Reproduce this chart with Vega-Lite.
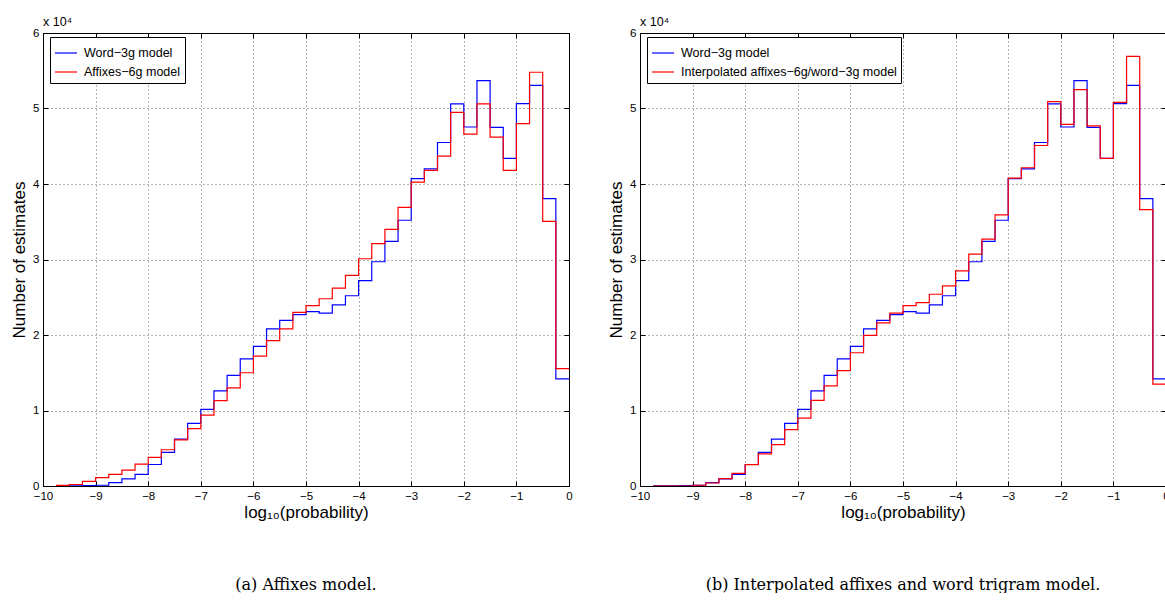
{
  "$schema": "https://vega.github.io/schema/vega-lite/v6.json",
  "background": "white",
  "padding": {"left": 10, "top": 15, "right": 0, "bottom": 0},
  "spacing": 71,
  "bounds": "flush",
  "config": {
    "font": "Liberation Sans",
    "view": {"stroke": "#000", "strokeWidth": 1},
    "axis": {
      "labelFontSize": 11.5, "labelColor": "#000", "labelFont": "Liberation Sans",
      "titleFont": "Liberation Sans", "titleFontSize": 17, "titleFontWeight": "normal", "titleColor": "#000",
      "tickSize": -5, "tickColor": "#000", "domainColor": "#000",
      "gridColor": "#000", "gridDash": [1, 3], "gridOpacity": 0.6, "gridWidth": 1,
      "labelFlush": false, "labelOverlap": false
    },
    "legend": {
      "orient": "none", "legendX": 7, "legendY": 4, "title": null,
      "symbolType": "stroke", "symbolSize": 484, "symbolStrokeWidth": 1.2,
      "labelFontSize": 12.5, "labelFont": "Liberation Sans", "labelColor": "#000", "labelLimit": 0,
      "fillColor": "white", "strokeColor": "#000", "padding": 4, "rowPadding": 0, "labelOffset": 6
    }
  },
  "hconcat": [
    {
      "width": 526, "height": 453,
      "title": {"text": "(a) Affixes model.", "orient": "bottom", "anchor": "middle", "frame": "group", "font": "DejaVu Serif", "fontSize": 16, "fontWeight": "normal", "color": "#000", "offset": 56},
      "data": {"values": [
        {"m": "Word−3g model", "a": -9.75, "b": -9.5, "n": 10},
        {"m": "Word−3g model", "a": -9.5, "b": -9.25, "n": 20},
        {"m": "Word−3g model", "a": -9.25, "b": -9, "n": 40},
        {"m": "Word−3g model", "a": -9, "b": -8.75, "n": 100},
        {"m": "Word−3g model", "a": -8.75, "b": -8.5, "n": 450},
        {"m": "Word−3g model", "a": -8.5, "b": -8.25, "n": 950},
        {"m": "Word−3g model", "a": -8.25, "b": -8, "n": 1550},
        {"m": "Word−3g model", "a": -8, "b": -7.75, "n": 2850},
        {"m": "Word−3g model", "a": -7.75, "b": -7.5, "n": 4450},
        {"m": "Word−3g model", "a": -7.5, "b": -7.25, "n": 6200},
        {"m": "Word−3g model", "a": -7.25, "b": -7, "n": 8300},
        {"m": "Word−3g model", "a": -7, "b": -6.75, "n": 10150},
        {"m": "Word−3g model", "a": -6.75, "b": -6.5, "n": 12600},
        {"m": "Word−3g model", "a": -6.5, "b": -6.25, "n": 14650},
        {"m": "Word−3g model", "a": -6.25, "b": -6, "n": 16850},
        {"m": "Word−3g model", "a": -6, "b": -5.75, "n": 18500},
        {"m": "Word−3g model", "a": -5.75, "b": -5.5, "n": 20800},
        {"m": "Word−3g model", "a": -5.5, "b": -5.25, "n": 21950},
        {"m": "Word−3g model", "a": -5.25, "b": -5, "n": 22700},
        {"m": "Word−3g model", "a": -5, "b": -4.75, "n": 23100},
        {"m": "Word−3g model", "a": -4.75, "b": -4.5, "n": 22900},
        {"m": "Word−3g model", "a": -4.5, "b": -4.25, "n": 24000},
        {"m": "Word−3g model", "a": -4.25, "b": -4, "n": 25200},
        {"m": "Word−3g model", "a": -4, "b": -3.75, "n": 27200},
        {"m": "Word−3g model", "a": -3.75, "b": -3.5, "n": 29700},
        {"m": "Word−3g model", "a": -3.5, "b": -3.25, "n": 32400},
        {"m": "Word−3g model", "a": -3.25, "b": -3, "n": 35200},
        {"m": "Word−3g model", "a": -3, "b": -2.75, "n": 40700},
        {"m": "Word−3g model", "a": -2.75, "b": -2.5, "n": 42000},
        {"m": "Word−3g model", "a": -2.5, "b": -2.25, "n": 45500},
        {"m": "Word−3g model", "a": -2.25, "b": -2, "n": 50600},
        {"m": "Word−3g model", "a": -2, "b": -1.75, "n": 47550},
        {"m": "Word−3g model", "a": -1.75, "b": -1.5, "n": 53700},
        {"m": "Word−3g model", "a": -1.5, "b": -1.25, "n": 47500},
        {"m": "Word−3g model", "a": -1.25, "b": -1, "n": 43400},
        {"m": "Word−3g model", "a": -1, "b": -0.75, "n": 50650},
        {"m": "Word−3g model", "a": -0.75, "b": -0.5, "n": 53050},
        {"m": "Word−3g model", "a": -0.5, "b": -0.25, "n": 38050},
        {"m": "Word−3g model", "a": -0.25, "b": 0, "n": 14200},
        {"m": "Affixes−6g model", "a": -9.75, "b": -9.5, "n": 80},
        {"m": "Affixes−6g model", "a": -9.5, "b": -9.25, "n": 200},
        {"m": "Affixes−6g model", "a": -9.25, "b": -9, "n": 600},
        {"m": "Affixes−6g model", "a": -9, "b": -8.75, "n": 1100},
        {"m": "Affixes−6g model", "a": -8.75, "b": -8.5, "n": 1550},
        {"m": "Affixes−6g model", "a": -8.5, "b": -8.25, "n": 2100},
        {"m": "Affixes−6g model", "a": -8.25, "b": -8, "n": 2900},
        {"m": "Affixes−6g model", "a": -8, "b": -7.75, "n": 3800},
        {"m": "Affixes−6g model", "a": -7.75, "b": -7.5, "n": 4800},
        {"m": "Affixes−6g model", "a": -7.5, "b": -7.25, "n": 6100},
        {"m": "Affixes−6g model", "a": -7.25, "b": -7, "n": 7600},
        {"m": "Affixes−6g model", "a": -7, "b": -6.75, "n": 9400},
        {"m": "Affixes−6g model", "a": -6.75, "b": -6.5, "n": 11300},
        {"m": "Affixes−6g model", "a": -6.5, "b": -6.25, "n": 13000},
        {"m": "Affixes−6g model", "a": -6.25, "b": -6, "n": 15000},
        {"m": "Affixes−6g model", "a": -6, "b": -5.75, "n": 17200},
        {"m": "Affixes−6g model", "a": -5.75, "b": -5.5, "n": 19250},
        {"m": "Affixes−6g model", "a": -5.5, "b": -5.25, "n": 20800},
        {"m": "Affixes−6g model", "a": -5.25, "b": -5, "n": 23000},
        {"m": "Affixes−6g model", "a": -5, "b": -4.75, "n": 23900},
        {"m": "Affixes−6g model", "a": -4.75, "b": -4.5, "n": 24800},
        {"m": "Affixes−6g model", "a": -4.5, "b": -4.25, "n": 26200},
        {"m": "Affixes−6g model", "a": -4.25, "b": -4, "n": 27900},
        {"m": "Affixes−6g model", "a": -4, "b": -3.75, "n": 30100},
        {"m": "Affixes−6g model", "a": -3.75, "b": -3.5, "n": 32100},
        {"m": "Affixes−6g model", "a": -3.5, "b": -3.25, "n": 34000},
        {"m": "Affixes−6g model", "a": -3.25, "b": -3, "n": 36900},
        {"m": "Affixes−6g model", "a": -3, "b": -2.75, "n": 40250},
        {"m": "Affixes−6g model", "a": -2.75, "b": -2.5, "n": 41800},
        {"m": "Affixes−6g model", "a": -2.5, "b": -2.25, "n": 43700},
        {"m": "Affixes−6g model", "a": -2.25, "b": -2, "n": 49500},
        {"m": "Affixes−6g model", "a": -2, "b": -1.75, "n": 46600},
        {"m": "Affixes−6g model", "a": -1.75, "b": -1.5, "n": 50600},
        {"m": "Affixes−6g model", "a": -1.5, "b": -1.25, "n": 46200},
        {"m": "Affixes−6g model", "a": -1.25, "b": -1, "n": 41800},
        {"m": "Affixes−6g model", "a": -1, "b": -0.75, "n": 48000},
        {"m": "Affixes−6g model", "a": -0.75, "b": -0.5, "n": 54800},
        {"m": "Affixes−6g model", "a": -0.5, "b": -0.25, "n": 35050},
        {"m": "Affixes−6g model", "a": -0.25, "b": 0, "n": 15550}
      ]},
      "layer": [
        {
          "transform": [{"fold": ["a", "b"], "as": ["k", "x"]}],
          "mark": {"type": "line", "strokeWidth": 1.2, "clip": true},
          "encoding": {
            "x": {"field": "x", "type": "quantitative", "scale": {"domain": [-10, 0], "nice": false, "zero": false},
                  "axis": {"title": "log₁₀(probability)", "titlePadding": 3, "values": [-10, -9, -8, -7, -6, -5, -4, -3, -2, -1, 0], "format": "d", "labelPadding": 9, "grid": true}},
            "y": {"field": "n", "type": "quantitative", "scale": {"domain": [0, 60000], "nice": false},
                  "axis": {"title": "Number of estimates", "titlePadding": 4, "values": [0, 10000, 20000, 30000, 40000, 50000, 60000], "labelExpr": "datum.value / 10000", "labelPadding": 9, "grid": true}},
            "color": {"field": "m", "type": "nominal", "scale": {"domain": ["Word−3g model", "Affixes−6g model"], "range": ["#0000ff", "#ff0000"]}},
            "order": [{"field": "a", "type": "quantitative"}, {"field": "k", "type": "ordinal"}]
          }
        },
        {
          "data": {"values": [{}]},
          "mark": {"type": "text", "align": "left", "baseline": "alphabetic", "dy": -7, "fontSize": 12.5, "font": "Liberation Sans", "color": "#000"},
          "encoding": {
            "x": {"datum": -10, "type": "quantitative", "axis": {"orient": "top", "labels": false, "title": null, "grid": false, "domain": false, "values": [-10, -9, -8, -7, -6, -5, -4, -3, -2, -1, 0]}},
            "y": {"datum": 60000, "type": "quantitative", "axis": {"orient": "right", "labels": false, "title": null, "grid": false, "domain": false, "values": [0, 10000, 20000, 30000, 40000, 50000, 60000]}},
            "text": {"value": "x 10⁴"}
          }
        }
      ],
      "resolve": {"axis": {"x": "independent", "y": "independent"}}
    },
    {
      "width": 526, "height": 453,
      "title": {"text": "(b) Interpolated affixes and word trigram model.", "orient": "bottom", "anchor": "middle", "frame": "group", "font": "DejaVu Serif", "fontSize": 16, "fontWeight": "normal", "color": "#000", "offset": 56},
      "data": {"values": [
        {"m": "Word−3g model", "a": -9.75, "b": -9.5, "n": 10},
        {"m": "Word−3g model", "a": -9.5, "b": -9.25, "n": 20},
        {"m": "Word−3g model", "a": -9.25, "b": -9, "n": 40},
        {"m": "Word−3g model", "a": -9, "b": -8.75, "n": 100},
        {"m": "Word−3g model", "a": -8.75, "b": -8.5, "n": 450},
        {"m": "Word−3g model", "a": -8.5, "b": -8.25, "n": 950},
        {"m": "Word−3g model", "a": -8.25, "b": -8, "n": 1550},
        {"m": "Word−3g model", "a": -8, "b": -7.75, "n": 2850},
        {"m": "Word−3g model", "a": -7.75, "b": -7.5, "n": 4450},
        {"m": "Word−3g model", "a": -7.5, "b": -7.25, "n": 6200},
        {"m": "Word−3g model", "a": -7.25, "b": -7, "n": 8300},
        {"m": "Word−3g model", "a": -7, "b": -6.75, "n": 10150},
        {"m": "Word−3g model", "a": -6.75, "b": -6.5, "n": 12600},
        {"m": "Word−3g model", "a": -6.5, "b": -6.25, "n": 14650},
        {"m": "Word−3g model", "a": -6.25, "b": -6, "n": 16850},
        {"m": "Word−3g model", "a": -6, "b": -5.75, "n": 18500},
        {"m": "Word−3g model", "a": -5.75, "b": -5.5, "n": 20800},
        {"m": "Word−3g model", "a": -5.5, "b": -5.25, "n": 21950},
        {"m": "Word−3g model", "a": -5.25, "b": -5, "n": 22700},
        {"m": "Word−3g model", "a": -5, "b": -4.75, "n": 23100},
        {"m": "Word−3g model", "a": -4.75, "b": -4.5, "n": 22900},
        {"m": "Word−3g model", "a": -4.5, "b": -4.25, "n": 24000},
        {"m": "Word−3g model", "a": -4.25, "b": -4, "n": 25200},
        {"m": "Word−3g model", "a": -4, "b": -3.75, "n": 27200},
        {"m": "Word−3g model", "a": -3.75, "b": -3.5, "n": 29700},
        {"m": "Word−3g model", "a": -3.5, "b": -3.25, "n": 32400},
        {"m": "Word−3g model", "a": -3.25, "b": -3, "n": 35200},
        {"m": "Word−3g model", "a": -3, "b": -2.75, "n": 40700},
        {"m": "Word−3g model", "a": -2.75, "b": -2.5, "n": 42000},
        {"m": "Word−3g model", "a": -2.5, "b": -2.25, "n": 45500},
        {"m": "Word−3g model", "a": -2.25, "b": -2, "n": 50600},
        {"m": "Word−3g model", "a": -2, "b": -1.75, "n": 47550},
        {"m": "Word−3g model", "a": -1.75, "b": -1.5, "n": 53700},
        {"m": "Word−3g model", "a": -1.5, "b": -1.25, "n": 47500},
        {"m": "Word−3g model", "a": -1.25, "b": -1, "n": 43400},
        {"m": "Word−3g model", "a": -1, "b": -0.75, "n": 50650},
        {"m": "Word−3g model", "a": -0.75, "b": -0.5, "n": 53050},
        {"m": "Word−3g model", "a": -0.5, "b": -0.25, "n": 38050},
        {"m": "Word−3g model", "a": -0.25, "b": 0, "n": 14200},
        {"m": "Interpolated affixes−6g/word−3g model", "a": -9.75, "b": -9.5, "n": 0},
        {"m": "Interpolated affixes−6g/word−3g model", "a": -9.5, "b": -9.25, "n": 0},
        {"m": "Interpolated affixes−6g/word−3g model", "a": -9.25, "b": -9, "n": 0},
        {"m": "Interpolated affixes−6g/word−3g model", "a": -9, "b": -8.75, "n": 100},
        {"m": "Interpolated affixes−6g/word−3g model", "a": -8.75, "b": -8.5, "n": 400},
        {"m": "Interpolated affixes−6g/word−3g model", "a": -8.5, "b": -8.25, "n": 970},
        {"m": "Interpolated affixes−6g/word−3g model", "a": -8.25, "b": -8, "n": 1680},
        {"m": "Interpolated affixes−6g/word−3g model", "a": -8, "b": -7.75, "n": 2830},
        {"m": "Interpolated affixes−6g/word−3g model", "a": -7.75, "b": -7.5, "n": 4250},
        {"m": "Interpolated affixes−6g/word−3g model", "a": -7.5, "b": -7.25, "n": 5490},
        {"m": "Interpolated affixes−6g/word−3g model", "a": -7.25, "b": -7, "n": 7480},
        {"m": "Interpolated affixes−6g/word−3g model", "a": -7, "b": -6.75, "n": 8980},
        {"m": "Interpolated affixes−6g/word−3g model", "a": -6.75, "b": -6.5, "n": 11330},
        {"m": "Interpolated affixes−6g/word−3g model", "a": -6.5, "b": -6.25, "n": 13270},
        {"m": "Interpolated affixes−6g/word−3g model", "a": -6.25, "b": -6, "n": 15270},
        {"m": "Interpolated affixes−6g/word−3g model", "a": -6, "b": -5.75, "n": 17650},
        {"m": "Interpolated affixes−6g/word−3g model", "a": -5.75, "b": -5.5, "n": 19950},
        {"m": "Interpolated affixes−6g/word−3g model", "a": -5.5, "b": -5.25, "n": 21600},
        {"m": "Interpolated affixes−6g/word−3g model", "a": -5.25, "b": -5, "n": 22900},
        {"m": "Interpolated affixes−6g/word−3g model", "a": -5, "b": -4.75, "n": 23900},
        {"m": "Interpolated affixes−6g/word−3g model", "a": -4.75, "b": -4.5, "n": 24300},
        {"m": "Interpolated affixes−6g/word−3g model", "a": -4.5, "b": -4.25, "n": 25400},
        {"m": "Interpolated affixes−6g/word−3g model", "a": -4.25, "b": -4, "n": 26500},
        {"m": "Interpolated affixes−6g/word−3g model", "a": -4, "b": -3.75, "n": 28500},
        {"m": "Interpolated affixes−6g/word−3g model", "a": -3.75, "b": -3.5, "n": 30700},
        {"m": "Interpolated affixes−6g/word−3g model", "a": -3.5, "b": -3.25, "n": 32700},
        {"m": "Interpolated affixes−6g/word−3g model", "a": -3.25, "b": -3, "n": 35900},
        {"m": "Interpolated affixes−6g/word−3g model", "a": -3, "b": -2.75, "n": 40770},
        {"m": "Interpolated affixes−6g/word−3g model", "a": -2.75, "b": -2.5, "n": 42150},
        {"m": "Interpolated affixes−6g/word−3g model", "a": -2.5, "b": -2.25, "n": 45100},
        {"m": "Interpolated affixes−6g/word−3g model", "a": -2.25, "b": -2, "n": 50900},
        {"m": "Interpolated affixes−6g/word−3g model", "a": -2, "b": -1.75, "n": 47900},
        {"m": "Interpolated affixes−6g/word−3g model", "a": -1.75, "b": -1.5, "n": 52500},
        {"m": "Interpolated affixes−6g/word−3g model", "a": -1.5, "b": -1.25, "n": 47700},
        {"m": "Interpolated affixes−6g/word−3g model", "a": -1.25, "b": -1, "n": 43400},
        {"m": "Interpolated affixes−6g/word−3g model", "a": -1, "b": -0.75, "n": 50800},
        {"m": "Interpolated affixes−6g/word−3g model", "a": -0.75, "b": -0.5, "n": 56900},
        {"m": "Interpolated affixes−6g/word−3g model", "a": -0.5, "b": -0.25, "n": 36600},
        {"m": "Interpolated affixes−6g/word−3g model", "a": -0.25, "b": 0, "n": 13500}
      ]},
      "layer": [
        {
          "transform": [{"fold": ["a", "b"], "as": ["k", "x"]}],
          "mark": {"type": "line", "strokeWidth": 1.2, "clip": true},
          "encoding": {
            "x": {"field": "x", "type": "quantitative", "scale": {"domain": [-10, 0], "nice": false, "zero": false},
                  "axis": {"title": "log₁₀(probability)", "titlePadding": 3, "values": [-10, -9, -8, -7, -6, -5, -4, -3, -2, -1, 0], "format": "d", "labelPadding": 9, "grid": true}},
            "y": {"field": "n", "type": "quantitative", "scale": {"domain": [0, 60000], "nice": false},
                  "axis": {"title": "Number of estimates", "titlePadding": 4, "values": [0, 10000, 20000, 30000, 40000, 50000, 60000], "labelExpr": "datum.value / 10000", "labelPadding": 9, "grid": true}},
            "color": {"field": "m", "type": "nominal", "scale": {"domain": ["Word−3g model", "Interpolated affixes−6g/word−3g model"], "range": ["#0000ff", "#ff0000"]}},
            "order": [{"field": "a", "type": "quantitative"}, {"field": "k", "type": "ordinal"}]
          }
        },
        {
          "data": {"values": [{}]},
          "mark": {"type": "text", "align": "left", "baseline": "alphabetic", "dy": -7, "fontSize": 12.5, "font": "Liberation Sans", "color": "#000"},
          "encoding": {
            "x": {"datum": -10, "type": "quantitative", "axis": {"orient": "top", "labels": false, "title": null, "grid": false, "domain": false, "values": [-10, -9, -8, -7, -6, -5, -4, -3, -2, -1, 0]}},
            "y": {"datum": 60000, "type": "quantitative", "axis": {"orient": "right", "labels": false, "title": null, "grid": false, "domain": false, "values": [0, 10000, 20000, 30000, 40000, 50000, 60000]}},
            "text": {"value": "x 10⁴"}
          }
        }
      ],
      "resolve": {"axis": {"x": "independent", "y": "independent"}}
    }
  ],
  "resolve": {"scale": {"color": "independent"}, "legend": {"color": "independent"}}
}
